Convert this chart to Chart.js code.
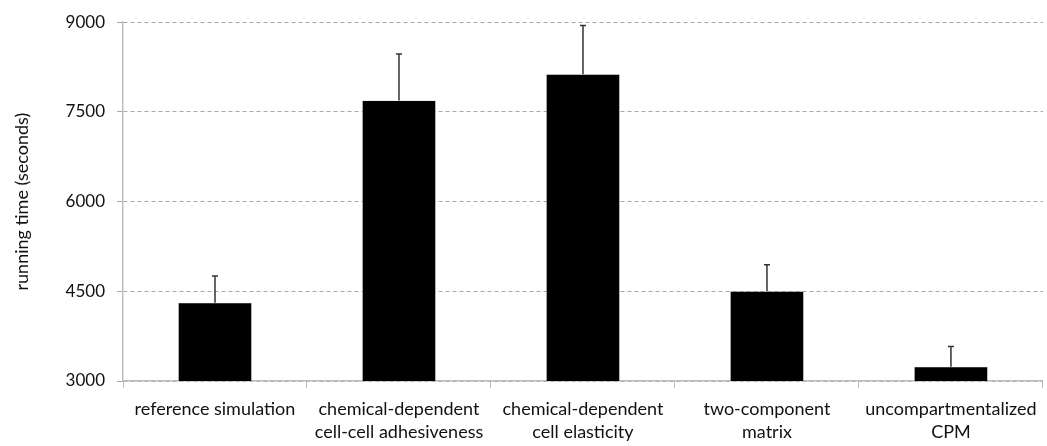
<!DOCTYPE html>
<html>
<head>
<meta charset="utf-8">
<script src="https://cdn.jsdelivr.net/npm/chart.js@4"></script>
<style>
  html, body { margin: 0; padding: 0; background: #fff; }
  #wrap { width: 1047px; height: 446px; }
</style>
</head>
<body>
<div id="wrap"><canvas id="barChart"></canvas></div>
<script>
// data
let categories = [
  'reference simulation',
  ['chemical-dependent', 'cell-cell adhesiveness'],
  ['chemical-dependent', 'cell elasticity'],
  ['two-component', 'matrix'],
  ['uncompartmentalized', 'CPM']
];
let runningTime = [4310, 7690, 8130, 4500, 3240];
let errorUp = [445, 780, 815, 445, 335];
let yTicks = [3000, 4500, 6000, 7500, 9000];

// error bar plugin (upper only)
const errorBars = {
  id: 'errorBars',
  afterDatasetsDraw(chart) {
    const ctx = chart.ctx;
    const meta = chart.getDatasetMeta(0);
    const y = chart.scales.y;
    ctx.save();
    ctx.strokeStyle = '#333';
    ctx.lineWidth = 1.5;
    meta.data.forEach((bar, i) => {
      let top = y.getPixelForValue(runningTime[i] + errorUp[i]);
      ctx.beginPath();
      ctx.moveTo(bar.x, bar.y);
      ctx.lineTo(bar.x, top);
      ctx.moveTo(bar.x - 3, top);
      ctx.lineTo(bar.x + 3, top);
      ctx.stroke();
    });
    ctx.restore();
  }
};

const barData = {
  labels: categories,
  datasets: [{
    label: 'running time',
    data: runningTime,
    backgroundColor: '#000',
    borderColor: '#bbb',
    borderWidth: 0.5,
    barPercentage: 0.4,
    categoryPercentage: 1.0
  }]
};

const barConfig = {
  type: 'bar',
  data: barData,
  plugins: [errorBars],
  options: {
    responsive: true,
    maintainAspectRatio: false,
    animation: false,
    layout: { padding: { top: 10, right: 4, bottom: 0, left: 11 } },
    plugins: {
      legend: { display: false },
      tooltip: { enabled: false }
    },
    scales: {
      x: {
        afterFit: (axis) => { axis.height = 65; },
        border: { color: '#bdbdbd', width: 1.5 },
        grid: {
          offset: true,
          drawOnChartArea: false,
          drawTicks: true,
          tickLength: 7,
          color: '#bdbdbd'
        },
        ticks: {
          color: '#111',
          font: { family: 'Lato', size: 18, lineHeight: 1.25 },
          maxRotation: 0,
          autoSkip: false,
          padding: 10
        }
      },
      y: {
        min: 3000,
        max: 9000,
        afterBuildTicks: (axis) => { axis.ticks = yTicks.map(v => ({ value: v })); },
        afterFit: (axis) => { axis.width = 112; },
        border: { color: '#bdbdbd', width: 1.5, dash: [4, 3] },
        grid: {
          color: '#a8a8a8',
          tickLength: 6,
          drawTicks: true
        },
        ticks: {
          color: '#111',
          font: { family: 'Lato', size: 17 },
          padding: 12,
          callback: (v) => String(v)
        },
        title: {
          display: true,
          text: 'running time (seconds)',
          color: '#111',
          font: { family: 'Lato', size: 18 },
          padding: { top: 0, bottom: 10 }
        }
      }
    }
  }
};

let barChart = new Chart(
  document.getElementById('barChart'),
  barConfig
);
</script>
</body>
</html>
